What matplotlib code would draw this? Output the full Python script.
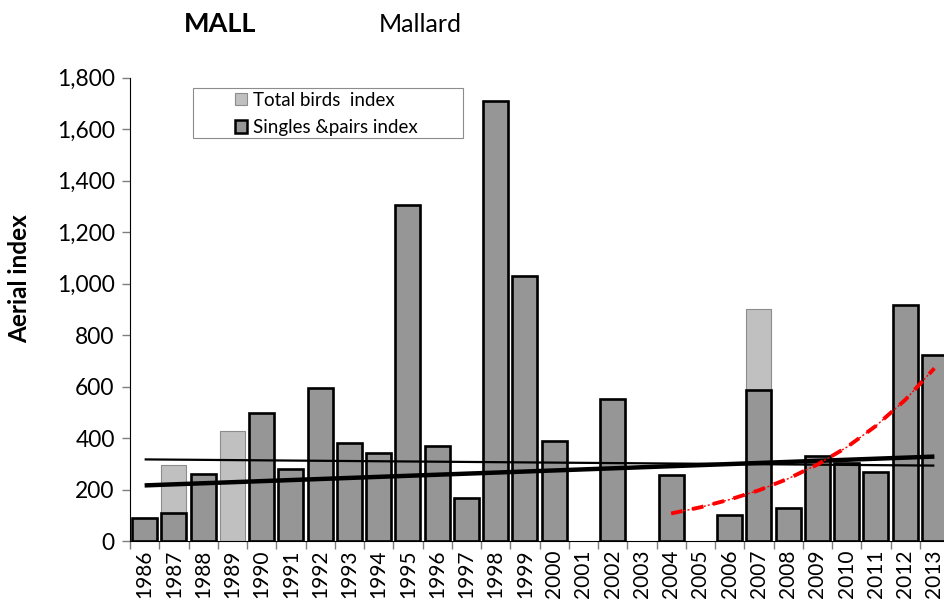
import numpy as np
import matplotlib
matplotlib.use("Agg")
import matplotlib.pyplot as plt
from matplotlib.patches import Patch, Rectangle
from matplotlib.ticker import FuncFormatter, MultipleLocator, FixedLocator

plt.rcParams['font.family'] = ['Lato', 'DejaVu Sans']

years = list(range(1986, 2014))
nan = np.nan
singles = [88, 108, 261, nan, 497, 280, 593, 381, 343, 1307, 371, 166, 1708, 1028,
           389, nan, 550, nan, 257, nan, 102, 585, 128, 331, 303, 268, 918, 723]
total = [88, 296, 261, 427, 497, 280, 593, 381, 343, 1307, 371, 166, 1708, 1028,
         389, nan, 550, nan, 257, nan, 102, 903, 128, 331, 303, 268, 918, 723]

# trend lines (value at first and last year)
trend_total_years = [1986, 2013]
trend_total_vals = [317, 293]
trend_singles_years = [1986, 2013]
trend_singles_vals = [216, 328]
# exponential trend 2004-2013
exp_years = [2004, 2005, 2006, 2007, 2008, 2009, 2010, 2011, 2012, 2013]
exp_vals = [107, 131, 161, 197, 242, 297, 364, 447, 548, 671]

W, H = 944, 602
fig = plt.figure(figsize=(W / 100, H / 100), dpi=100)
x0, x1 = 130, 949
y0, y1 = 541, 77.7
ax = fig.add_axes([x0 / W, 1 - y0 / H, (x1 - x0) / W, (y0 - y1) / H])

idx = np.arange(len(years))
pos = {y: i for i, y in enumerate(years)}

ax.bar(idx, total, width=0.85, color='#c0c0c0', edgecolor='#8c8c8c', linewidth=0.8, zorder=1)
ax.bar(idx, singles, width=0.85, color='#969696', edgecolor='black', linewidth=1.9, zorder=2)

ax.plot([pos[y] for y in trend_total_years], trend_total_vals, color='black', lw=1.6, zorder=3,
        solid_capstyle='butt')
ax.plot([pos[y] for y in trend_singles_years], trend_singles_vals, color='black', lw=3.2, zorder=3,
        solid_capstyle='butt')
ex = [pos[y] for y in exp_years]
ax.plot(ex, exp_vals, color='red', lw=1.0, ls=(0, (1.5, 1.5)), zorder=4)
ax.plot(ex, exp_vals, color='red', lw=2.8, ls=(0, (3, 2.5)), zorder=4)

ax.set_xlim(-0.5, len(years) - 0.5)
ax.set_ylim(0, 1800)

ax.spines['top'].set_visible(False)
ax.spines['right'].set_visible(False)
ax.spines['left'].set_color('black')
ax.spines['bottom'].set_color('black')

ax.yaxis.set_major_locator(MultipleLocator(200))
ax.yaxis.set_major_formatter(FuncFormatter(lambda v, p: f"{int(v):,}"))
ax.tick_params(axis='y', direction='out', length=6, width=1, color='#7f7f7f', labelsize=16.4, pad=5)

ax.set_xticks(idx)
ax.set_xticklabels([str(y) for y in years], rotation=90, fontsize=15)
ax.tick_params(axis='x', which='major', length=0, pad=6)
ax.xaxis.set_minor_locator(FixedLocator(np.arange(-0.5, len(years), 1.0)))
ax.tick_params(axis='x', which='minor', direction='out', length=6, width=1, color='#7f7f7f')

fig.text(20 / W, 1 - 279 / H, 'Aerial index', rotation=90, fontsize=17.5, fontweight='bold',
         ha='center', va='center')
fig.text(220 / W, 1 - 24 / H, 'MALL', fontsize=19.5, fontweight='bold', ha='center', va='center')
fig.text(420 / W, 1 - 24 / H, 'Mallard', fontsize=18, ha='center', va='center')

# legend frame
fig.patches.append(Rectangle((193 / W, 1 - 138 / H), (463 - 193) / W, 50 / H,
                             transform=fig.transFigure, facecolor='white',
                             edgecolor='#8c8c8c', linewidth=0.8, zorder=5))
handles = [Patch(facecolor='#c0c0c0', edgecolor='#8c8c8c', linewidth=0.8),
           Patch(facecolor='#969696', edgecolor='black', linewidth=1.8)]
leg = fig.legend(handles, ['Total birds  index', 'Singles &pairs index'],
                 loc='upper left', bbox_to_anchor=(231 / W, 1 - 88 / H),
                 frameon=False, fontsize=13.5, handlelength=0.65, handleheight=0.65,
                 handletextpad=0.3, labelspacing=0.55, borderpad=0.2, borderaxespad=0)
leg.set_zorder(6)

fig.savefig('out.png', dpi=100)
